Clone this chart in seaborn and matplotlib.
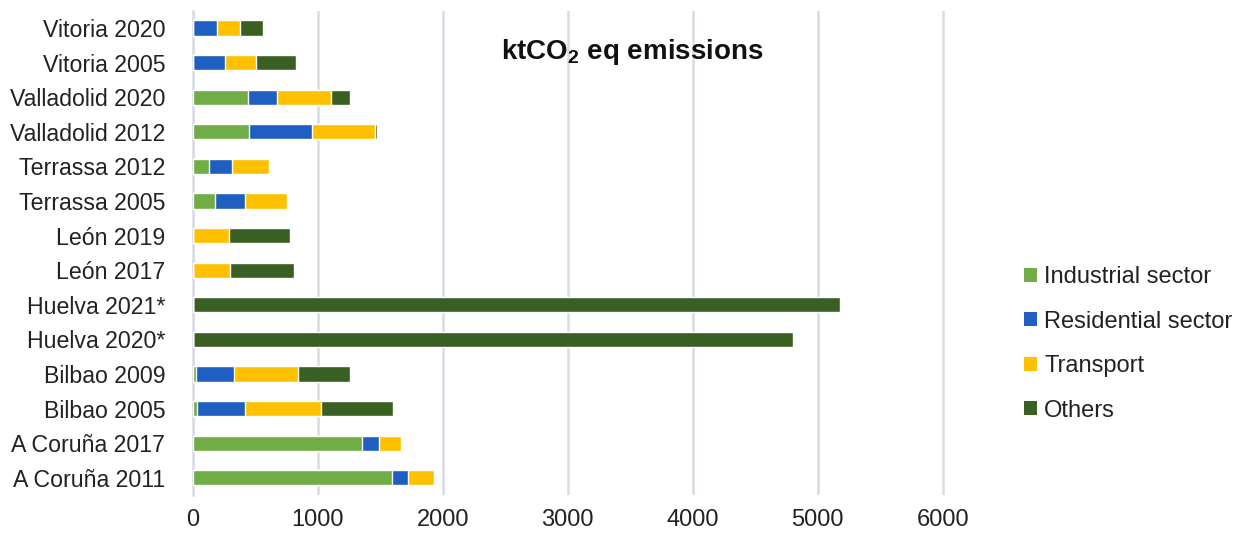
import numpy as np
import pandas as pd
import matplotlib
matplotlib.use("Agg")
import matplotlib.pyplot as plt
import seaborn as sns
from matplotlib.patches import Patch
from matplotlib.ticker import FixedLocator


# 1. Data (ktCO2 eq)
cities = ["Vitoria 2020", "Vitoria 2005", "Valladolid 2020", "Valladolid 2012",
          "Terrassa 2012", "Terrassa 2005", "León 2019", "León 2017",
          "Huelva 2021*", "Huelva 2020*", "Bilbao 2009", "Bilbao 2005",
          "A Coruña 2017", "A Coruña 2011"]
industrial = [0, 0, 440, 445, 125, 176, 0, 0, 0, 0, 21, 29, 1352, 1595]
residential = [195, 259, 235, 507, 187, 240, 0, 0, 0, 0, 307, 389, 133, 128]
transport = [181, 245, 432, 507, 296, 336, 291, 299, 0, 0, 515, 605, 179, 205]
others = [184, 320, 149, 16, 0, 0, 483, 512, 5176, 4802, 416, 576, 0, 0]

sectors = ["Industrial sector", "Residential sector", "Transport", "Others"]
colors = ["#70AD47", "#1F5FC1", "#FFC000", "#3A5F22"]

df = pd.DataFrame({"city": cities, "Industrial sector": industrial,
                   "Residential sector": residential, "Transport": transport,
                   "Others": others})
# cumulative sums so the layers can be drawn back to front
cum = df[sectors].cumsum(axis=1)


# 2. Figure
sns.set_style("white")
plt.rcParams["font.family"] = ["Liberation Sans", "DejaVu Sans"]
plt.rcParams["mathtext.fontset"] = "custom"
plt.rcParams["mathtext.bf"] = "Liberation Sans:bold"
plt.rcParams["mathtext.rm"] = "Liberation Sans"

fig = plt.figure(figsize=(12.35, 5.34), dpi=100)
ax = fig.add_axes([0.1563, 0.073, 0.6575, 0.907])

for sector, color in reversed(list(zip(sectors, colors))):
    sns.barplot(x=cum[sector], y=df["city"], color=color, orient="h",
                width=0.44, saturation=1, ax=ax, zorder=3)

ax.set_xlim(0, 6500)
ax.xaxis.set_major_locator(FixedLocator([0, 1000, 2000, 3000, 4000, 5000, 6000]))
ax.grid(axis="x", color="#D9DBE4", linewidth=1.8, zorder=0)
ax.grid(axis="y", visible=False)
ax.set_axisbelow(True)
ax.set_xlabel("")
ax.set_ylabel("")

for s in ["top", "right", "bottom"]:
    ax.spines[s].set_visible(False)
ax.spines["left"].set_color("#D9DBE4")
ax.spines["left"].set_linewidth(1.8)

ax.tick_params(axis="x", length=0, pad=10, labelsize=17, colors="#222222")
ax.tick_params(axis="y", which="major", length=0, pad=20, labelsize=16.7,
               colors="#222222")
ax.yaxis.set_minor_locator(FixedLocator(np.arange(len(cities) + 1) - 0.5))
ax.tick_params(axis="y", which="minor", length=6, width=1.5, color="#C9CCD6")

ax.text(0.541, 0.915, r"ktCO$_\mathbf{2}$ eq emissions", transform=ax.transAxes,
        ha="center", va="center", fontsize=20, fontweight="bold", color="#111111")

# 3. Legend
handles = [Patch(facecolor=c, edgecolor="none", label=s) for s, c in zip(sectors, colors)]
fig.legend(handles=handles, loc="center left", bbox_to_anchor=(1003 / 1235, 0.356),
           frameon=False, fontsize=17, handlelength=0.55, handleheight=0.55,
           handletextpad=0.3, labelspacing=0.95, labelcolor="#222222")

fig.savefig("out.png", dpi=100)
